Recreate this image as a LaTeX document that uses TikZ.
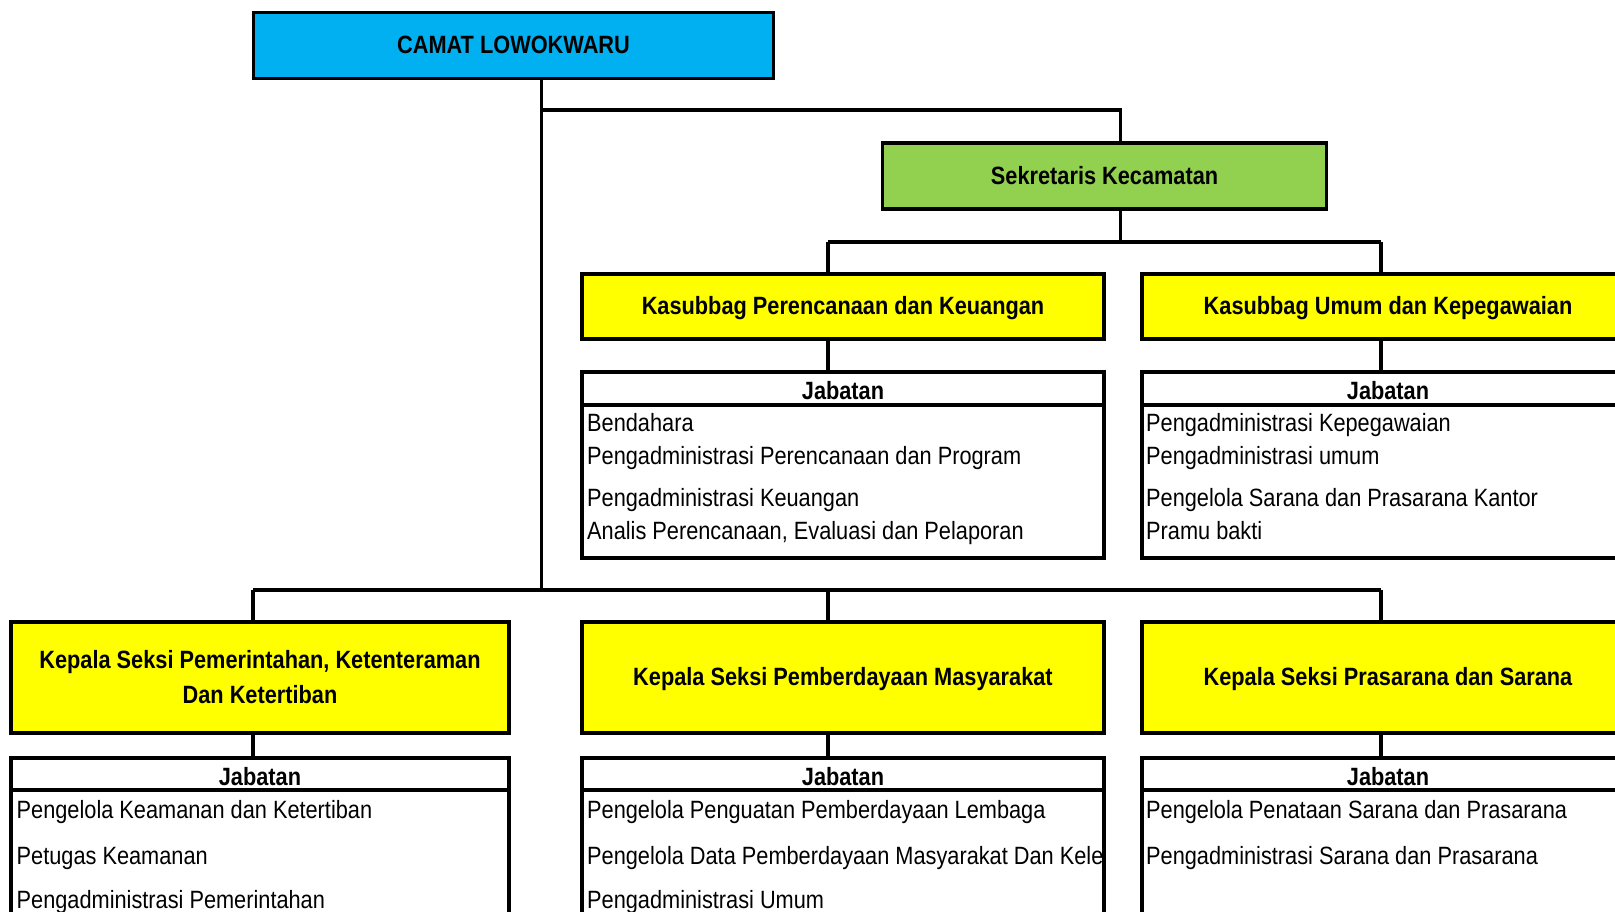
\documentclass[tikz,border=0pt]{standalone}
\usepackage{fontspec}
\setmainfont[FakeStretch=0.87]{Liberation Sans}
\definecolor{cyanbox}{HTML}{00B0F0}
\definecolor{greenbox}{HTML}{92D050}
\definecolor{yellowbox}{HTML}{FFFF00}
\begin{document}
\begin{tikzpicture}[x=1pt,y=-1pt,
  box/.style={draw, line width=3.1pt, align=center, inner sep=0pt,
    font=\bfseries\fontsize{25}{35}\selectfont},
  jab/.style={draw, line width=3.1pt, inner sep=0pt, fill=white},
  item/.style={anchor=base west, inner sep=0pt, font=\fontsize{25}{29}\selectfont},
  jhead/.style={anchor=base, inner sep=0pt, font=\bfseries\fontsize{25}{29}\selectfont},
  conn/.style={line width=3.1pt}]
\useasboundingbox (0,0) rectangle (1615,912);
\clip (0,0) rectangle (1615,912);
\fill[white] (0,0) rectangle (1615,912);

% top level
\node[box, fill=cyanbox, minimum width=520pt, minimum height=66pt] (camat) at (513.5,45.3) {CAMAT LOWOKWARU};
\node[box, fill=greenbox, minimum width=444pt, minimum height=66pt] (sek) at (1104.6,176) {Sekretaris Kecamatan};

% kasubbag
\node[box, fill=yellowbox, minimum width=522pt, minimum height=65pt, text depth=3pt] (kp) at (843,306.5) {Kasubbag Perencanaan dan Keuangan};
\node[box, fill=yellowbox, minimum width=492pt, minimum height=65pt, text depth=3pt] (ku) at (1388,306.5) {Kasubbag Umum dan Kepegawaian};

\node[jab, minimum width=522pt, minimum height=186pt] (kpj) at (843,465) {};
\node[jab, minimum width=492pt, minimum height=186pt] (kuj) at (1388,465) {};

% kepala seksi
\node[box, fill=yellowbox, minimum width=498pt, minimum height=111pt] (ks1) at (260,677.5) {Kepala Seksi Pemerintahan, Ketenteraman\\Dan Ketertiban};
\node[box, fill=yellowbox, minimum width=522pt, minimum height=111pt, text depth=3pt] (ks2) at (843,677.5) {Kepala Seksi Pemberdayaan Masyarakat};
\node[box, fill=yellowbox, minimum width=492pt, minimum height=111pt, text depth=3pt] (ks3) at (1388,677.5) {Kepala Seksi Prasarana dan Sarana};

\node[jab, minimum width=498pt, minimum height=202pt] (ks1j) at (260,859) {};
\node[jab, minimum width=522pt, minimum height=202pt] (ks2j) at (843,859) {};
\node[jab, minimum width=492pt, minimum height=202pt] (ks3j) at (1388,859) {};

% jabatan headers
\foreach \n in {kpj,kuj}{
  \draw[conn] (\n.west |- 0,405) -- (\n.east |- 0,405);
  \node[jhead] at (\n.center |- 0,399) {Jabatan};
}
\foreach \n in {ks1j,ks2j,ks3j}{
  \draw[conn] (\n.west |- 0,790) -- (\n.east |- 0,790);
  \node[jhead] at (\n.center |- 0,785) {Jabatan};
}

% items
\node[item] (a1) at (587,431) {Bendahara};
\node[item] (a2) at (587,464) {Pengadministrasi Perencanaan dan Program};
\node[item] (a3) at (587,506) {Pengadministrasi Keuangan};
\node[item] (a4) at (587,539) {Analis Perencanaan, Evaluasi dan Pelaporan};

\node[item] (b1i) at (1146,431) {Pengadministrasi Kepegawaian};
\node[item] (b2i) at (1146,464) {Pengadministrasi umum};
\node[item] (b3i) at (1146,506) {Pengelola Sarana dan Prasarana Kantor};
\node[item] (b4i) at (1146,539) {Pramu bakti};

\node[item] (c1) at (16.5,818.5) {Pengelola Keamanan dan Ketertiban};
\node[item] (c2) at (16.5,864) {Petugas Keamanan};
\node[item] (c3) at (16.5,908) {Pengadministrasi Pemerintahan};

\node[item] (d1) at (587,818.5) {Pengelola Penguatan Pemberdayaan Lembaga};
\node[item] (d2) at (587,864) {Pengelola Data Pemberdayaan Masyarakat Dan Kele};
\node[item] (d3) at (587,908) {Pengadministrasi Umum};

\node[item] (e1) at (1146,818.5) {Pengelola Penataan Sarana dan Prasarana};
\node[item] (e2) at (1146,864) {Pengadministrasi Sarana dan Prasarana};

% connectors
\coordinate (j1) at (541.8,110);
\coordinate (j2) at (1120.6,110);
\coordinate (j3) at (541.8,590);
\coordinate (s1) at (1120.6,242);
\coordinate (s2) at (828,242);
\coordinate (s3) at (1381,242);
\coordinate (m1) at (253,590);
\coordinate (m2) at (828,590);
\coordinate (m3) at (1381,590);

\draw[conn] (camat.south -| j1) -- (j3);
\draw[conn] (j1) -- (j2) -- (sek.north -| j2);
\draw[conn] (sek.south -| s1) -- (s1);
\draw[conn] (s2) -- (s3);
\draw[conn] (s2) -- (kp.north -| s2);
\draw[conn] (s3) -- (ku.north -| s3);
\draw[conn] (kp.south -| s2) -- (kpj.north -| s2);
\draw[conn] (ku.south -| s3) -- (kuj.north -| s3);

\draw[conn] (m1) -- (m3);
\draw[conn] (m1) -- (ks1.north -| m1);
\draw[conn] (m2) -- (ks2.north -| m2);
\draw[conn] (m3) -- (ks3.north -| m3);
\draw[conn] (ks1.south -| m1) -- (ks1j.north -| m1);
\draw[conn] (ks2.south -| m2) -- (ks2j.north -| m2);
\draw[conn] (ks3.south -| m3) -- (ks3j.north -| m3);
\end{tikzpicture}
\end{document}
